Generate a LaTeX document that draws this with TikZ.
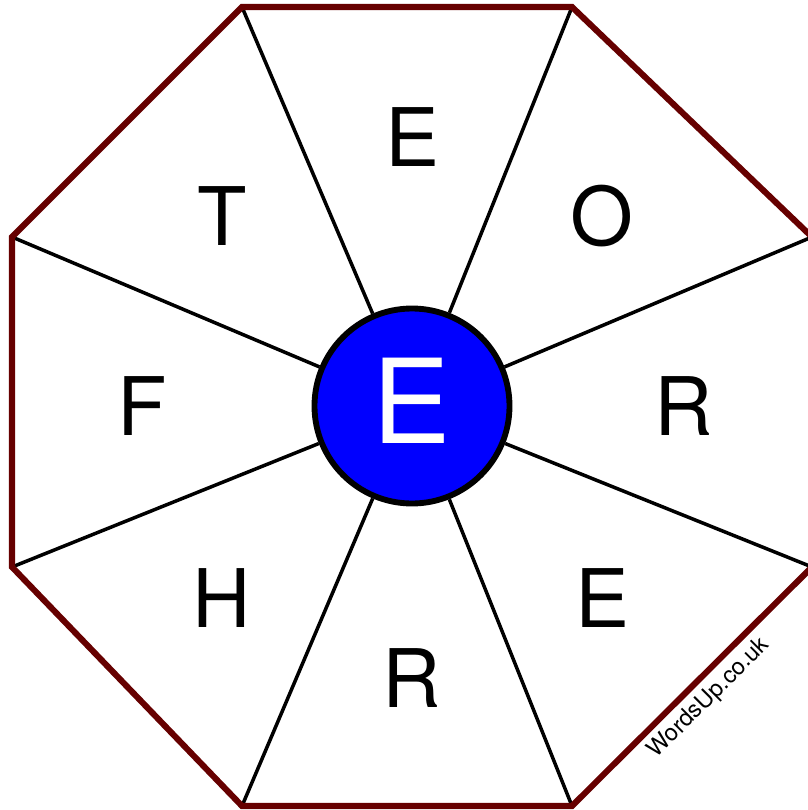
\documentclass[tikz,border=0pt]{standalone}
\usepackage{fontspec}
\setmainfont{TeX Gyre Heros}
\usetikzlibrary{positioning}
\definecolor{rimred}{RGB}{102,0,0}
\definecolor{hubblue}{RGB}{0,0,255}

\begin{document}
\begin{tikzpicture}[
  x=0.03cm, y=-0.03cm,
  rim/.style={draw=rimred, line width=5.2pt, line join=miter},
  spoke/.style={draw=black, line width=3pt},
  hub/.style={circle, draw=black, line width=5pt, fill=hubblue, minimum size=5.85cm,
              inner sep=0pt},
  letter/.style={font=\fontsize{69}{69}\selectfont, inner sep=0pt},
]
\useasboundingbox (0,0) rectangle (807,810);

% corners of the octagon
\coordinate (v1) at (242,7);
\coordinate (v2) at (572,7);
\coordinate (v3) at (812,237);
\coordinate (v4) at (812,567);
\coordinate (v5) at (572,806);
\coordinate (v6) at (242,806);
\coordinate (v7) at (12,567);
\coordinate (v8) at (12,237);

\node[hub] (hub) at (412,406) {};

\foreach \v in {1,...,8}
  \draw[spoke] (hub) -- (v\v);

\draw[rim] (v1) -- (v2) -- (v3) -- (v4) -- (v5) -- (v6) -- (v7) -- (v8) -- cycle;

\node[font=\fontsize{100}{100}\selectfont, text=white] (middle) at (412,401) {E};

% outer letters
\node[letter] (top)    at (412,137) {E};
\node[letter] (topr)   at (602,216) {O};
\node[letter] (right)  at (684,406) {R};
\node[letter] (botr)   at (602,598) {E};
\node[letter] (bottom) at (412,678) {R};
\node[letter] (botl)   at (222,598) {H};
\node[letter] (left)   at (142,406) {F};
\node[letter] (topl)   at (222,216) {T};

\node[font=\fontsize{20}{20}\selectfont, rotate=45] (site) at (709,698) {WordsUp.co.uk};

\end{tikzpicture}
\end{document}
